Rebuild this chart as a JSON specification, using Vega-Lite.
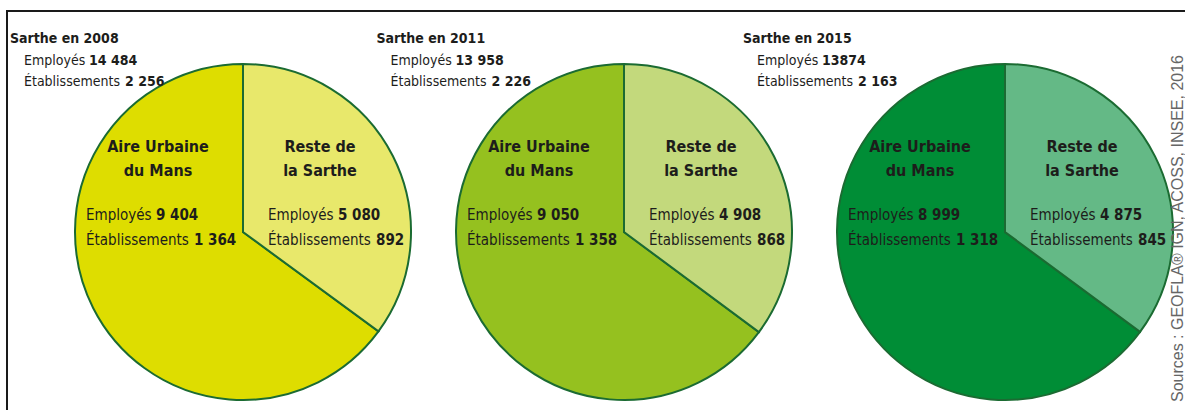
{
  "$schema": "https://vega.github.io/schema/vega-lite/v6.json",
  "width": 1180,
  "height": 442,
  "autosize": {"type": "none"},
  "padding": {"left": 7, "top": 11, "right": 0, "bottom": 0},
  "background": "white",
  "config": {
    "view": {"stroke": "#1a1a1a", "strokeWidth": 2},
    "text": {"font": "DejaVu Sans Condensed, Liberation Sans Narrow, DejaVu Sans", "color": "#1d1d1b"}
  },
  "title": {
    "text": "Sources : GEOFLA® IGN, ACOSS, INSEE, 2016",
    "orient": "right",
    "anchor": "start",
    "angle": -90,
    "align": "right",
    "baseline": "middle",
    "offset": -25,
    "dx": -44,
    "fontSize": 16,
    "font": "Liberation Sans",
    "fontWeight": "normal",
    "color": "#666666"
  },
  "datasets": {
    "parts": [
      {"annee": "2008", "zone": "Aire Urbaine du Mans", "nom": "Aire Urbaine\ndu Mans", "cle": "2008 Aire", "employes": 9404, "etablissements": 1364, "emp_txt": "9 404", "etab_txt": "1 364"},
      {"annee": "2008", "zone": "Reste de la Sarthe", "nom": "Reste de\nla Sarthe", "cle": "2008 Reste", "employes": 5080, "etablissements": 892, "emp_txt": "5 080", "etab_txt": "892"},
      {"annee": "2011", "zone": "Aire Urbaine du Mans", "nom": "Aire Urbaine\ndu Mans", "cle": "2011 Aire", "employes": 9050, "etablissements": 1358, "emp_txt": "9 050", "etab_txt": "1 358"},
      {"annee": "2011", "zone": "Reste de la Sarthe", "nom": "Reste de\nla Sarthe", "cle": "2011 Reste", "employes": 4908, "etablissements": 868, "emp_txt": "4 908", "etab_txt": "868"},
      {"annee": "2015", "zone": "Aire Urbaine du Mans", "nom": "Aire Urbaine\ndu Mans", "cle": "2015 Aire", "employes": 8999, "etablissements": 1318, "emp_txt": "8 999", "etab_txt": "1 318"},
      {"annee": "2015", "zone": "Reste de la Sarthe", "nom": "Reste de\nla Sarthe", "cle": "2015 Reste", "employes": 4875, "etablissements": 845, "emp_txt": "4 875", "etab_txt": "845"}
    ],
    "totaux": [
      {"annee": "2008", "titre": "Sarthe en 2008", "emp_txt": "14 484", "etab_txt": "2 256"},
      {"annee": "2011", "titre": "Sarthe en 2011", "emp_txt": "13 958", "etab_txt": "2 226"},
      {"annee": "2015", "titre": "Sarthe en 2015", "emp_txt": "13874", "etab_txt": "2 163"}
    ]
  },
  "layer": [
    {
      "data": {"name": "parts"},
      "encoding": {
        "x": {"field": "annee", "type": "nominal", "scale": {"type": "point", "range": [236, 998], "padding": 0}, "axis": null}
      },
      "layer": [
        {
          "transform": [
            {"stack": "employes", "groupby": ["annee"], "sort": [{"field": "zone", "order": "descending"}], "offset": "normalize", "as": ["t0", "t1"]}
          ],
          "mark": {"type": "arc", "outerRadius": 168, "stroke": "#1b6b32", "strokeWidth": 2},
          "encoding": {
            "theta": {"field": "t0", "type": "quantitative", "scale": {"domain": [0, 1], "range": [0, 6.283185307]}},
            "theta2": {"field": "t1"},
            "color": {
              "field": "cle", "type": "nominal", "legend": null,
              "scale": {
                "domain": ["2008 Aire", "2008 Reste", "2011 Aire", "2011 Reste", "2015 Aire", "2015 Reste"],
                "range": ["#dedd00", "#e8e86b", "#95c11f", "#c3d97c", "#008d36", "#64b986"]
              }
            }
          }
        },
        {
          "transform": [{"filter": "datum.zone === 'Aire Urbaine du Mans'"}],
          "mark": {"type": "text", "align": "center", "baseline": "alphabetic", "fontWeight": "bold", "fontSize": 16, "lineBreak": "\n", "lineHeight": 24, "dx": -85, "dy": -80},
          "encoding": {"text": {"field": "nom"}}
        },
        {
          "transform": [{"filter": "datum.zone === 'Reste de la Sarthe'"}],
          "mark": {"type": "text", "align": "center", "baseline": "alphabetic", "fontWeight": "bold", "fontSize": 16, "lineBreak": "\n", "lineHeight": 24, "dx": 77, "dy": -80},
          "encoding": {"text": {"field": "nom"}}
        },
        {
          "transform": [{"filter": "datum.zone === 'Aire Urbaine du Mans'"}],
          "mark": {"type": "text", "align": "left", "baseline": "alphabetic", "fontSize": 15, "lineBreak": "\n", "lineHeight": 25, "dx": -157, "dy": -12, "text": "Employés\nÉtablissements"},
          "encoding": {}
        },
        {
          "transform": [{"filter": "datum.zone === 'Aire Urbaine du Mans'"}],
          "mark": {"type": "text", "align": "left", "baseline": "alphabetic", "fontSize": 15, "fontWeight": "bold", "dx": -87, "dy": -12},
          "encoding": {"text": {"field": "emp_txt"}}
        },
        {
          "transform": [{"filter": "datum.zone === 'Aire Urbaine du Mans'"}],
          "mark": {"type": "text", "align": "left", "baseline": "alphabetic", "fontSize": 15, "fontWeight": "bold", "dx": -49, "dy": 13},
          "encoding": {"text": {"field": "etab_txt"}}
        },
        {
          "transform": [{"filter": "datum.zone === 'Reste de la Sarthe'"}],
          "mark": {"type": "text", "align": "left", "baseline": "alphabetic", "fontSize": 15, "lineBreak": "\n", "lineHeight": 25, "dx": 25, "dy": -12, "text": "Employés\nÉtablissements"},
          "encoding": {}
        },
        {
          "transform": [{"filter": "datum.zone === 'Reste de la Sarthe'"}],
          "mark": {"type": "text", "align": "left", "baseline": "alphabetic", "fontSize": 15, "fontWeight": "bold", "dx": 95, "dy": -12},
          "encoding": {"text": {"field": "emp_txt"}}
        },
        {
          "transform": [{"filter": "datum.zone === 'Reste de la Sarthe'"}],
          "mark": {"type": "text", "align": "left", "baseline": "alphabetic", "fontSize": 15, "fontWeight": "bold", "dx": 133, "dy": 13},
          "encoding": {"text": {"field": "etab_txt"}}
        }
      ]
    },
    {
      "data": {"name": "totaux"},
      "encoding": {
        "x": {"field": "annee", "type": "nominal", "scale": {"type": "point", "range": [3, 736], "padding": 0}, "axis": null}
      },
      "layer": [
        {
          "mark": {"type": "text", "align": "left", "baseline": "alphabetic", "fontSize": 14, "fontWeight": "bold", "dx": 0, "dy": -189},
          "encoding": {"text": {"field": "titre"}}
        },
        {
          "mark": {"type": "text", "align": "left", "baseline": "alphabetic", "fontSize": 14, "lineBreak": "\n", "lineHeight": 21, "dx": 14, "dy": -167, "text": "Employés\nÉtablissements"},
          "encoding": {}
        },
        {
          "mark": {"type": "text", "align": "left", "baseline": "alphabetic", "fontSize": 14, "fontWeight": "bold", "dx": 79, "dy": -167},
          "encoding": {"text": {"field": "emp_txt"}}
        },
        {
          "mark": {"type": "text", "align": "left", "baseline": "alphabetic", "fontSize": 14, "fontWeight": "bold", "dx": 115, "dy": -146},
          "encoding": {"text": {"field": "etab_txt"}}
        }
      ]
    }
  ],
  "resolve": {"scale": {"x": "independent"}}
}
